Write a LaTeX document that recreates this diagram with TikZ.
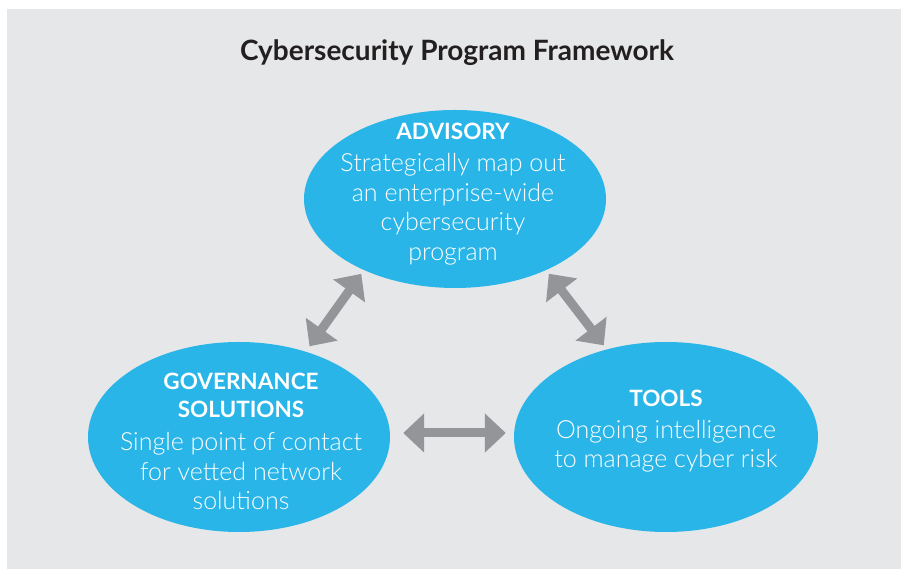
\documentclass[tikz,border=0pt]{standalone}
\usepackage{fontspec}
\setmainfont{Lato}
\newfontfamily\bodyfont{Lato Light}
\usetikzlibrary{arrows.meta,shapes.geometric}
\definecolor{bgGray}{HTML}{E6E7E8}
\definecolor{bubble}{HTML}{29B5E8}
\definecolor{arrGray}{HTML}{939598}
\definecolor{titleInk}{HTML}{231F20}
\tikzset{
  bubblenode/.style={ellipse, fill=bubble, draw=none, inner sep=0pt},
  headtext/.style={text=white, font=\fontsize{22.5}{28}\selectfont\bfseries, align=center, inner sep=0pt},
  bodytext/.style={text=white, font=\bodyfont\fontsize{25}{29.5}\selectfont, align=center, inner sep=0pt},
  dblarrow/.style={arrGray, line width=9pt, {Triangle[width=38pt,length=21pt]}-{Triangle[width=38pt,length=21pt]}}
}
\begin{document}
\begin{tikzpicture}[x=1pt,y=1pt]
\useasboundingbox (0,0) rectangle (901,569);
\fill[bgGray] (7,0) rectangle (901,560);
\node[text=titleInk, font=\fontsize{28}{32}\selectfont\bfseries, inner sep=0pt] (title) at (457,516) {Cybersecurity Program Framework};
\node[bubblenode, minimum width=302pt, minimum height=178pt] (adv) at (455,370) {};
\node[bubblenode, minimum width=302pt, minimum height=190pt] (gov) at (239,132) {};
\node[bubblenode, minimum width=304pt, minimum height=190pt] (tools) at (666,132) {};
\node[headtext] (advh) at (453,438) {ADVISORY};
\node[bodytext] (advb) at (453,360) {Strategically map out\\an enterprise-wide\\cybersecurity\\program};
\node[headtext] (govh) at (241,174) {GOVERNANCE\\SOLUTIONS};
\node[bodytext] (govb) at (241,97.5) {Single point of contact\\for vetted network\\solutions};
\node[headtext] (toolsh) at (666,171) {TOOLS};
\node[bodytext] (toolsb) at (666,123) {Ongoing intelligence\\to manage cyber risk};
\draw[dblarrow, shorten <=6.5pt, shorten >=4.5pt] (gov.52) -- (adv.218);
\draw[dblarrow, shorten <=4.5pt, shorten >=5pt] (adv.322) -- (tools.124.4);
\draw[dblarrow, shorten <=13pt, shorten >=8pt] ([yshift=4pt]gov.east) -- ([yshift=4pt]tools.west);
\end{tikzpicture}
\end{document}
